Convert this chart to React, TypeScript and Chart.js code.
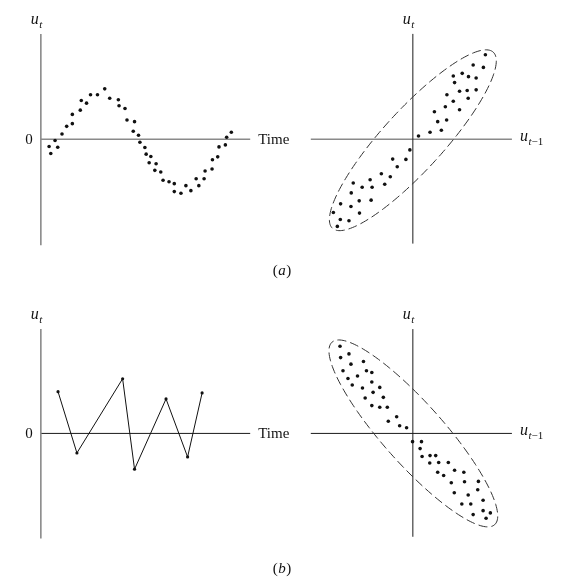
import { useEffect, useRef } from "react";
import { Chart, registerables } from "chart.js";

Chart.register(...registerables);

// ---------- Data ----------
// (a) left: u_t against time (positive autocorrelation, smooth wave)
const aLeftTime = [8.3, 10.0, 14.3, 17.0, 21.3, 26.0, 31.7, 31.7, 39.7, 40.7, 46.0, 50.0, 57.0, 64.3, 69.3, 78.0, 78.7, 84.7, 86.7, 94.3, 93.0, 98.3, 99.7, 104.7, 106.0, 110.7, 109.0, 116.0, 114.7, 120.7, 123.0, 129.0, 134.3, 134.3, 141.0, 146.0, 151.0, 156.3, 159.0, 164.3, 165.3, 172.3, 172.7, 178.0, 179.3, 185.7, 187.0, 191.7];
const aLeftU = [-7.3, -14.3, -1.3, -8.0, 5.3, 13.0, 15.7, 25.0, 29.3, 39.0, 36.3, 44.7, 44.7, 50.7, 41.3, 39.7, 33.7, 31.0, 19.3, 17.7, 8.0, 4.0, -3.0, -8.3, -15.0, -17.3, -23.7, -24.7, -31.3, -33.0, -41.3, -42.7, -44.7, -52.7, -54.3, -46.7, -51.7, -39.7, -46.7, -39.7, -32.0, -30.0, -20.7, -17.7, -7.7, -5.7, 2.0, 7.0];

// (a) right: u_t against u_{t-1}
const aRightLag = [73, 60.7, 71, 49.7, 40.7, 56, 63.7, 42, 47, 54.7, 63.7, 34.3, 55.7, 40.7, 32.7, 47, 21.7, 25, 34, 28.7, 17.3, 5.7, -3, -20.3, -7, -15.7, -31.7, -22.7, -43, -60, -41, -28.3, -51, -62, -72.7, -54, -42, -62.3, -80, -53.7, -73, -64.3, -76];
const aRightU = [85, 74.7, 72.3, 66.3, 63.7, 63, 61.7, 57, 48.3, 49, 49.7, 44.7, 41.3, 38.3, 32.7, 29.7, 27.7, 17.7, 19.3, 9, 7, 3.3, -10.7, -20, -20.3, -27.7, -34.7, -37.7, -40.7, -44, -48.3, -45.3, -48.3, -54, -65, -62, -61.3, -67.7, -73.7, -74.3, -80.7, -82, -87.7];

// (b) left: u_t against time (negative autocorrelation, zig-zag)
const bLeftTime = [17.3, 36.3, 82.3, 94.3, 126, 147.7, 162.3];
const bLeftU = [42, -19.7, 55, -36, 34.7, -23.7, 40.7];

// (b) right: u_t against u_{t-1}
const bRightLag = [-73.3, -72.7, -64.3, -62.3, -49.7, -70.3, -55.7, -46.7, -41.3, -65.3, -41.3, -61, -50.7, -33.3, -40, -48, -29.7, -41.3, -33.3, -25.7, -16.3, -24.7, -13.3, -6.3, -0.3, 8.7, 7.3, 9.3, 17.3, 23, 17, 26, 35.7, 25, 31, 42, 51.3, 38.7, 52, 66, 65.3, 41.7, 55.7, 70.7, 49.3, 58.3, 70.7, 60.7, 78, 73.7];
const bRightU = [87.7, 76.3, 80, 69.7, 72.3, 63, 57.7, 63, 61.3, 55.3, 51.7, 48.7, 45.7, 46.3, 41.3, 35.7, 36.3, 28, 26.3, 26.3, 16.7, 12.3, 7.7, 5.7, -8.3, -8.3, -15.3, -23.3, -22.3, -22.3, -29.7, -29.3, -29.3, -39, -42.3, -37, -39, -49.7, -48.7, -48.3, -56.7, -59.7, -62, -67.3, -71, -71, -77.7, -81.7, -80, -85.3];

// Scatter envelopes (dashed ellipses): centre, semi-axes, tilt
const aEllipse = { cx: 0, cy: -1, semiMajor: 120, semiMinor: 30.5, angleDeg: 47.6 };
const bEllipse = { cx: 0.5, cy: 0, semiMajor: 123, semiMinor: 30.5, angleDeg: -48.3 };

// Text
const timeLabel = "Time";
const zeroLabel = "0";
const captionLabels = ["a", "b"];

// ---------- Layout ----------
const W = 562;
const H = 583;
const GREY = "#8a8a8a";
const BLACK = "#1a1a1a";
const SERIF = '"Liberation Serif", "Times New Roman", serif';

type Panel = {
  key: string;
  ox: number; // canvas pixel of the origin
  oy: number;
  xr: [number, number]; // axis extent in data units
  yr: [number, number];
  hColor: string;
  vColor: string;
  kind: "time" | "lag";
  ellipse?: typeof aEllipse;
};

const PANELS: Panel[] = [
  { key: "aL", ox: 39.3, oy: 138.3, xr: [0, 210.7], yr: [-106.7, 106], hColor: GREY, vColor: GREY, kind: "time" },
  { key: "aR", ox: 413.7, oy: 138.3, xr: [-102.7, 99.7], yr: [-105, 106], hColor: GREY, vColor: BLACK, kind: "lag", ellipse: aEllipse },
  { key: "bL", ox: 39.3, oy: 434.3, xr: [0, 210.7], yr: [-105.7, 105], hColor: BLACK, vColor: GREY, kind: "time" },
  { key: "bR", ox: 413.7, oy: 434.3, xr: [-102.7, 99.7], yr: [-104, 105], hColor: BLACK, vColor: BLACK, kind: "lag", ellipse: bEllipse },
];

const CAPTIONS = [
  { text: captionLabels[0], x: 282, y: 271 },
  { text: captionLabels[1], x: 282, y: 569 },
];

function toPoints(xs: number[], ys: number[]) {
  return xs.map((x, i) => ({ x, y: ys[i] }));
}

function drawULabel(ctx: CanvasRenderingContext2D, x: number, baseline: number, withLag: boolean, align: "left" | "right") {
  const mainFont = `italic 16px ${SERIF}`;
  const subItalic = `italic 11px ${SERIF}`;
  const subRoman = `11px ${SERIF}`;
  const parts: { t: string; font: string; dy: number }[] = [
    { t: "u", font: mainFont, dy: 0 },
    { t: "t", font: subItalic, dy: 4 },
  ];
  if (withLag) parts.push({ t: "\u22121", font: subRoman, dy: 4 });
  let total = 0;
  const widths = parts.map((p) => {
    ctx.font = p.font;
    const w = ctx.measureText(p.t).width;
    total += w;
    return w;
  });
  let cx = align === "right" ? x - total : x;
  ctx.textAlign = "left";
  ctx.textBaseline = "alphabetic";
  parts.forEach((p, i) => {
    ctx.font = p.font;
    ctx.fillText(p.t, cx, baseline + p.dy);
    cx += widths[i] + (i === 0 ? 0.5 : 0);
  });
}

const decorPlugin = {
  id: "decor",
  beforeDatasetsDraw(chart: any) {
    const ctx: CanvasRenderingContext2D = chart.ctx;
    ctx.save();
    for (const p of PANELS) {
      const xs = chart.scales["x" + p.key];
      const ys = chart.scales["y" + p.key];
      // horizontal axis
      ctx.setLineDash([]);
      ctx.strokeStyle = p.hColor;
      ctx.lineWidth = p.hColor === GREY ? 1.6 : 1;
      ctx.beginPath();
      ctx.moveTo(xs.getPixelForValue(p.xr[0]), ys.getPixelForValue(0));
      ctx.lineTo(xs.getPixelForValue(p.xr[1]), ys.getPixelForValue(0));
      ctx.stroke();
      // vertical axis
      ctx.strokeStyle = p.vColor;
      ctx.lineWidth = p.vColor === GREY ? 1.6 : 1;
      ctx.beginPath();
      ctx.moveTo(xs.getPixelForValue(0), ys.getPixelForValue(p.yr[0]));
      ctx.lineTo(xs.getPixelForValue(0), ys.getPixelForValue(p.yr[1]));
      ctx.stroke();
      // dashed envelope
      if (p.ellipse) {
        const e = p.ellipse;
        const th = (e.angleDeg * Math.PI) / 180;
        ctx.strokeStyle = "#333";
        ctx.lineWidth = 1;
        ctx.setLineDash([9, 4]);
        ctx.beginPath();
        const n = 180;
        for (let i = 0; i <= n; i++) {
          const phi = (i / n) * Math.PI * 2;
          const dx = e.semiMajor * Math.cos(phi) * Math.cos(th) - e.semiMinor * Math.sin(phi) * Math.sin(th);
          const dy = e.semiMajor * Math.cos(phi) * Math.sin(th) + e.semiMinor * Math.sin(phi) * Math.cos(th);
          const px = xs.getPixelForValue(e.cx + dx);
          const py = ys.getPixelForValue(e.cy + dy);
          if (i === 0) ctx.moveTo(px, py);
          else ctx.lineTo(px, py);
        }
        ctx.closePath();
        ctx.stroke();
        ctx.setLineDash([]);
      }
    }
    ctx.restore();
  },
  afterDraw(chart: any) {
    const ctx: CanvasRenderingContext2D = chart.ctx;
    ctx.save();
    ctx.fillStyle = "#111";
    for (const p of PANELS) {
      const xs = chart.scales["x" + p.key];
      const ys = chart.scales["y" + p.key];
      const x0 = xs.getPixelForValue(0);
      const y0 = ys.getPixelForValue(0);
      const xEnd = xs.getPixelForValue(p.xr[1]);
      const yTop = ys.getPixelForValue(p.yr[1]);
      // u_t above the vertical axis
      drawULabel(ctx, x0 + 1, yTop - 10, false, "right");
      if (p.kind === "time") {
        ctx.font = `15px ${SERIF}`;
        ctx.textBaseline = "middle";
        ctx.textAlign = "right";
        ctx.fillText(zeroLabel, x0 - 8, y0 + 0.5);
        ctx.textAlign = "left";
        ctx.fillText(timeLabel, xEnd + 8, y0 + 0.5);
      } else {
        drawULabel(ctx, xEnd + 8, y0 + 2, true, "left");
      }
    }
    // captions (a), (b)
    for (const c of CAPTIONS) {
      ctx.textBaseline = "middle";
      ctx.textAlign = "left";
      const roman = `15px ${SERIF}`;
      const ital = `italic 15px ${SERIF}`;
      ctx.font = roman;
      const wp = ctx.measureText("(").width;
      const wc = ctx.measureText(")").width;
      ctx.font = ital;
      const wl = ctx.measureText(c.text).width;
      let cx = c.x - (wp + wl + wc + 1) / 2;
      ctx.font = roman;
      ctx.fillText("(", cx, c.y);
      cx += wp + 0.5;
      ctx.font = ital;
      ctx.fillText(c.text, cx, c.y);
      cx += wl + 0.5;
      ctx.font = roman;
      ctx.fillText(")", cx, c.y);
    }
    ctx.restore();
  },
};

export default function App() {
  const ref = useRef<HTMLCanvasElement | null>(null);

  useEffect(() => {
    if (!ref.current) return;
    const scales: any = {};
    for (const p of PANELS) {
      scales["x" + p.key] = { type: "linear", display: false, min: -p.ox, max: W - p.ox };
      scales["y" + p.key] = { type: "linear", display: false, min: p.oy - H, max: p.oy };
    }
    const dot = { pointRadius: 1.8, pointHoverRadius: 1.8, pointBackgroundColor: "#111", pointBorderWidth: 0, borderColor: "#111" };
    const chart = new Chart(ref.current, {
      type: "scatter",
      data: {
        datasets: [
          { label: "a-time", data: toPoints(aLeftTime, aLeftU), xAxisID: "xaL", yAxisID: "yaL", showLine: false, ...dot },
          { label: "a-lag", data: toPoints(aRightLag, aRightU), xAxisID: "xaR", yAxisID: "yaR", showLine: false, ...dot },
          { label: "b-time", data: toPoints(bLeftTime, bLeftU), xAxisID: "xbL", yAxisID: "ybL", showLine: true, borderWidth: 1, ...dot, pointRadius: 1.6 },
          { label: "b-lag", data: toPoints(bRightLag, bRightU), xAxisID: "xbR", yAxisID: "ybR", showLine: false, ...dot },
        ] as any,
      },
      options: {
        animation: false,
        responsive: false,
        devicePixelRatio: 1,
        layout: { padding: 0 },
        clip: false as any,
        scales,
        plugins: { legend: { display: false }, tooltip: { enabled: false } },
        events: [],
      },
      plugins: [decorPlugin],
    });
    return () => chart.destroy();
  }, []);

  return (
    <div style={{ position: "absolute", left: 0, top: 0, width: W, height: H, background: "#fff" }}>
      <canvas ref={ref} width={W} height={H} style={{ display: "block", width: W, height: H }} />
    </div>
  );
}
